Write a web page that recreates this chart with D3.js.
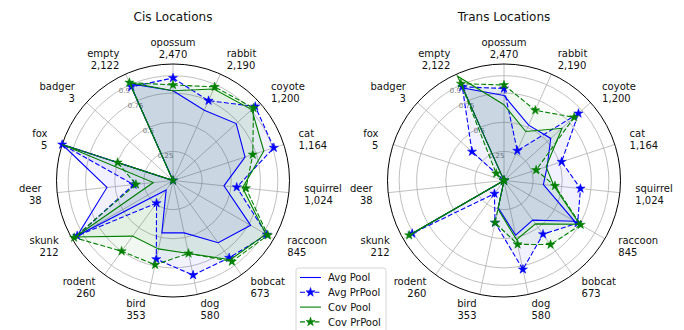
<!DOCTYPE html>
<html>
<head>
<meta charset="utf-8">
<script src="https://cdn.jsdelivr.net/npm/d3@7"></script>
<style>
  body { margin: 0; background: #fff; }
  svg { display: block; font-family: "DejaVu Sans", sans-serif; }
</style>
</head>
<body>
<svg id="chart" width="684" height="330"></svg>
<script>
// Categories, clockwise from the top, with their sample counts
const categories = ["opossum", "rabbit", "coyote", "cat", "squirrel", "raccoon", "bobcat",
  "dog", "bird", "rodent", "skunk", "deer", "fox", "badger", "empty"];
const counts = ["2,470", "2,190", "1,200", "1,164", "1,024", "845", "673",
  "580", "353", "260", "212", "38", "5", "3", "2,122"];
const radialTicks = [0.25, 0.5, 0.75, 0.9];
const radialTickLabels = ["0.25", "0.5", "0.75", "0.9"];
const seriesNames = ["Avg Pool", "Avg PrPool", "Cov Pool", "Cov PrPool"];

// Cis locations
const cisAvgPool   = [0.77, 0.66, 0.73, 0.65, 0.44, 0.77, 0.66, 0.46, 0.46, 0.10, 0.95, 0.57, 1.00, 0.00, 0.91];
const cisAvgPrPool = [0.88, 0.75, 0.95, 0.91, 0.55, 0.93, 0.82, 0.83, 0.69, 0.24, 0.95, 0.34, 1.00, 0.00, 0.88];
const cisCovPool   = [0.77, 0.86, 0.91, 0.82, 0.60, 0.92, 0.84, 0.64, 0.60, 0.59, 0.97, 0.17, 1.00, 0.00, 0.92];
const cisCovPrPool = [0.82, 0.88, 0.93, 0.72, 0.63, 0.94, 0.86, 0.64, 0.74, 0.75, 0.98, 0.32, 0.50, 0.00, 0.92];

// Trans locations
const transAvgPool   = [0.73, 0.52, 0.54, 0.39, 0.34, 0.70, 0.42, 0.48, 0.24, 0.00, 0.91, 0.00, 0.00, 0.00, 0.87];
const transAvgPrPool = [0.79, 0.28, 0.86, 0.52, 0.66, 0.73, 0.57, 0.78, 0.37, 0.14, 0.91, 0.00, 0.00, 0.37, 0.88];
const transCovPool   = [0.65, 0.46, 0.67, 0.38, 0.43, 0.75, 0.46, 0.52, 0.25, 0.00, 0.94, 0.00, 0.00, 0.00, 0.98];
const transCovPrPool = [0.82, 0.66, 0.81, 0.29, 0.44, 0.76, 0.68, 0.56, 0.37, 0.00, 0.94, 0.00, 0.00, 0.09, 0.91];

const BLUE = "#0000ff", GREEN = "#008000", TEXT = "#111111";
const styles = [
  { color: BLUE,  dashed: false, marker: false },
  { color: BLUE,  dashed: true,  marker: true  },
  { color: GREEN, dashed: false, marker: false },
  { color: GREEN, dashed: true,  marker: true  }
];

const svg = d3.select("#chart");
const R = 116.5;
const n = categories.length;
const angle = d3.scaleLinear().domain([0, n]).range([0, 2 * Math.PI]);
const radius = d3.scaleLinear().domain([0, 1]).range([0, R]);
const star = d3.symbol().type(d3.symbolStar).size(26);

function drawRadar(cx, cy, title, series) {
  const g = svg.append("g").attr("transform", `translate(${cx},${cy})`);

  // title
  svg.append("text").attr("x", cx).attr("y", 21).attr("text-anchor", "middle")
    .attr("font-size", 12).attr("fill", TEXT).text(title);

  // circular gridlines
  g.selectAll("circle.grid").data(radialTicks).join("circle")
    .attr("r", d => radius(d)).attr("fill", "none")
    .attr("stroke", "#b0b0b0").attr("stroke-width", 0.8);

  // spokes
  g.selectAll("line.spoke").data(categories).join("line")
    .each(function (d, i) {
      const [x, y] = d3.pointRadial(angle(i), R);
      d3.select(this).attr("x1", 0).attr("y1", 0).attr("x2", x).attr("y2", y);
    })
    .attr("stroke", "#b0b0b0").attr("stroke-width", 0.8);

  // outer frame
  g.append("circle").attr("r", R).attr("fill", "none")
    .attr("stroke", "#000").attr("stroke-width", 1);

  // radial tick labels
  const labAng = -31 * Math.PI / 180;
  g.selectAll("text.rtick").data(radialTicks).join("text")
    .each(function (d, i) {
      const [x, y] = d3.pointRadial(labAng, radius(d) + 0.5);
      d3.select(this).attr("x", x).attr("y", y + 2.5).text(radialTickLabels[i]);
    })
    .attr("font-size", 7).attr("fill", "#808080");

  // category labels
  categories.forEach((c, i) => {
    const a = angle(i);
    const [x, y] = d3.pointRadial(a, 132);
    const s = Math.sin(a);
    const anchor = Math.abs(s) < 0.01 ? "middle" : (s > 0 ? "start" : "end");
    const t = g.append("text").attr("font-size", 10).attr("fill", TEXT)
      .attr("text-anchor", anchor);
    t.append("tspan").attr("x", x).attr("y", y - 2.5).text(c);
    t.append("tspan").attr("x", x).attr("y", y + 9.5).text(counts[i]);
  });

  const line = d3.lineRadial()
    .angle((d, i) => angle(i))
    .radius(d => radius(d))
    .curve(d3.curveLinearClosed);

  // fills
  series.forEach((vals, k) => {
    g.append("path").attr("d", line(vals))
      .attr("fill", styles[k].color).attr("fill-opacity", 0.055).attr("stroke", "none");
  });
  // outlines and markers
  series.forEach((vals, k) => {
    const st = styles[k];
    g.append("path").attr("d", line(vals))
      .attr("fill", "none").attr("stroke", st.color).attr("stroke-width", 1.1)
      .attr("stroke-dasharray", st.dashed ? "5,2.2" : null);
    if (st.marker) {
      g.selectAll(null).data(vals).join("path")
        .attr("d", star)
        .attr("transform", (d, i) => {
          const [x, y] = d3.pointRadial(angle(i), radius(d));
          return `translate(${x},${y})`;
        })
        .attr("fill", st.color).attr("stroke", st.color).attr("stroke-width", 0.5);
    }
  });
}

drawRadar(173, 180.5, "Cis Locations", [cisAvgPool, cisAvgPrPool, cisCovPool, cisCovPrPool]);
drawRadar(504, 180.5, "Trans Locations", [transAvgPool, transAvgPrPool, transCovPool, transCovPrPool]);

// legend
const lg = svg.append("g").attr("transform", "translate(296,268)");
lg.append("rect").attr("width", 90).attr("height", 72).attr("rx", 2.5)
  .attr("fill", "#fff").attr("fill-opacity", 0.8).attr("stroke", "#cccccc").attr("stroke-width", 0.8);
seriesNames.forEach((name, k) => {
  const st = styles[k];
  const y = 9.5 + k * 14.8;
  lg.append("line").attr("x1", 4).attr("x2", 25).attr("y1", y).attr("y2", y)
    .attr("stroke", st.color).attr("stroke-width", 1.1)
    .attr("stroke-dasharray", st.dashed ? "5,2.2" : null);
  if (st.marker) {
    lg.append("path").attr("d", star).attr("transform", `translate(14.5,${y})`)
      .attr("fill", st.color).attr("stroke", st.color).attr("stroke-width", 0.5);
  }
  lg.append("text").attr("x", 32).attr("y", y + 3.6).attr("font-size", 10)
    .attr("fill", TEXT).text(name);
});
</script>
</body>
</html>
